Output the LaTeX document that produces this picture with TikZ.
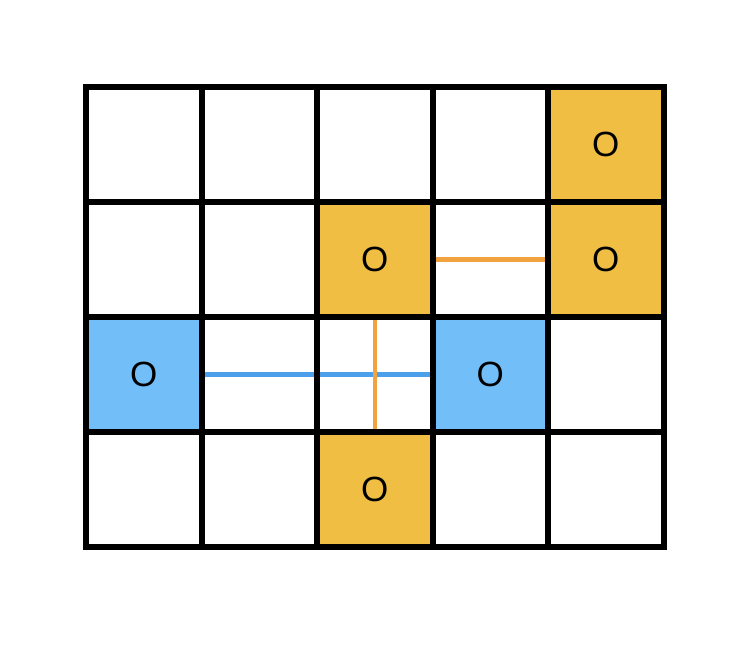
\documentclass[tikz,border=0pt]{standalone}
\usepackage{fontspec}
\setsansfont{Liberation Sans}
\usetikzlibrary{positioning}
\definecolor{gold}{HTML}{EFBE43}
\definecolor{sky}{HTML}{72BEF9}
\definecolor{trail}{HTML}{F2A23E}
\definecolor{ray}{HTML}{4C9FEA}

\begin{document}
\begin{tikzpicture}[x=57.75pt,y=-57.5pt,
                    every node/.style={font=\sffamily\fontsize{17.5}{17.5}\selectfont},
                    cell/.style={minimum width=57.75pt,minimum height=57.5pt,inner sep=0pt,outer sep=0pt},
                    hit/.style={cell,fill=gold},
                    seen/.style={cell,fill=sky},
                    wall/.style={line width=3pt,line cap=rect},
                    track/.style={line width=2.2pt}]
  \useasboundingbox (-0.7446,-0.7565) rectangle (5.766,4.861);

  % empty board
  \foreach \r in {0,...,3}
    \foreach \c in {0,...,4}
      \node[cell] (c-\r-\c) at (\c+0.5,\r+0.5) {};

  % marked cells
  \node[hit]  (o1) at (c-0-4) {O};
  \node[hit]  (o2) at (c-1-2) {O};
  \node[hit]  (o3) at (c-1-4) {O};
  \node[hit]  (o4) at (c-3-2) {O};
  \node[seen] (o5) at (c-2-0) {O};
  \node[seen] (o6) at (c-2-3) {O};

  % links
  \draw[track,trail] (c-1-3.west)  -- (c-1-3.east);
  \draw[track,ray]   (c-2-1.west)  -- (c-2-2.east);
  \draw[track,trail] (c-2-2.north) -- (c-2-2.south);

  % grid lines
  \foreach \c in {0,...,4}
    \draw[wall] (c-0-\c.north west) -- (c-3-\c.south west);
  \draw[wall] (c-0-4.north east) -- (c-3-4.south east);
  \foreach \r in {0,...,3}
    \draw[wall] (c-\r-0.north west) -- (c-\r-4.north east);
  \draw[wall] (c-3-0.south west) -- (c-3-4.south east);
\end{tikzpicture}
\end{document}
